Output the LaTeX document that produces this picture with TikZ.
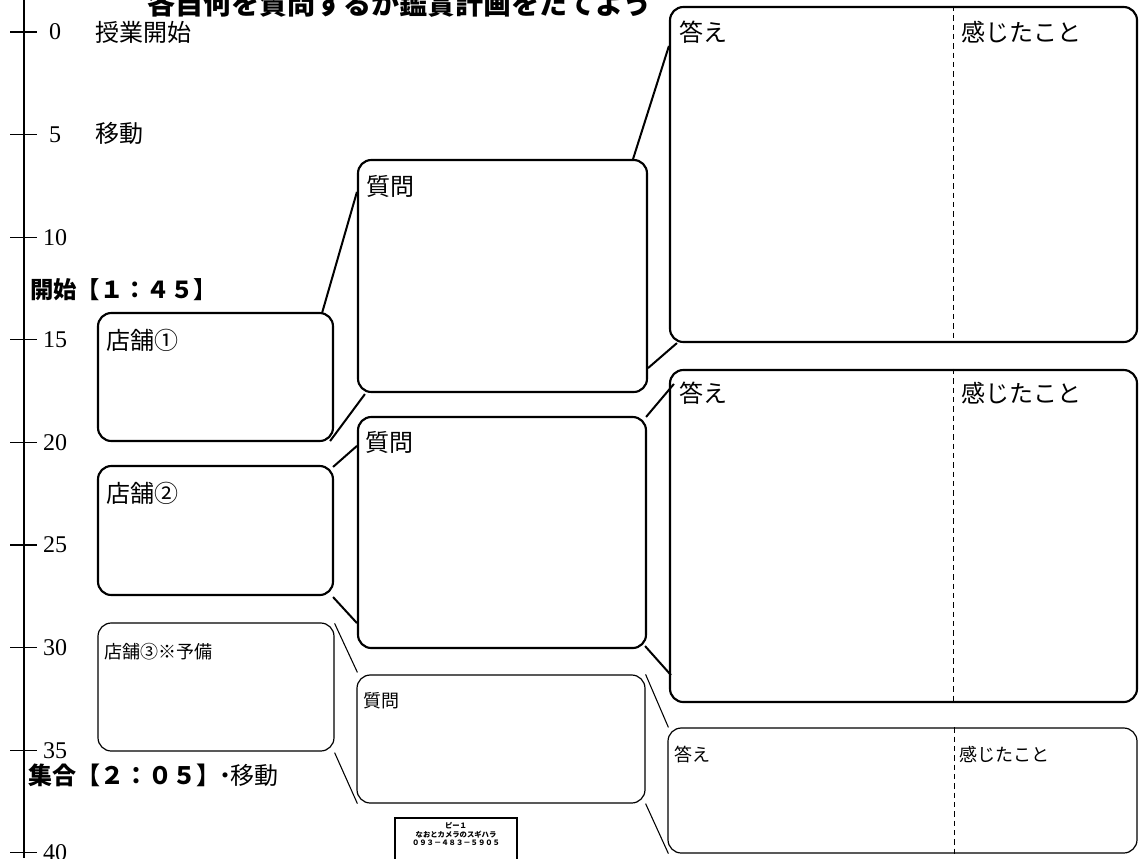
\documentclass[tikz,border=0pt]{standalone}
\usepackage{fontspec}
\setmainfont{Liberation Serif}
\newfontfamily\cjk{Noto Sans CJK JP}
\usetikzlibrary{calc}
\begin{document}
\begin{tikzpicture}[x=0.75pt,y=-0.75pt,
  thickbox/.style={draw, line width=1.6pt, rounded corners=10pt, inner sep=0pt},
  thinbox/.style={draw, line width=0.9pt, rounded corners=10pt, inner sep=0pt},
  thickline/.style={line width=1.5pt},
  thinline/.style={line width=0.8pt},
  lbl/.style={anchor=west, inner sep=0pt, font=\cjk\fontsize{18}{18}\selectfont},
  slbl/.style={anchor=west, inner sep=0pt, font=\cjk\fontsize{13.5}{13.5}\selectfont},
  num/.style={inner sep=0pt, font=\fontsize{18}{18}\selectfont},
  divider/.style={line width=0.8pt, dash pattern=on 4pt off 3pt}
]
\useasboundingbox[fill=white] (0,0) rectangle (1139,858);

% timeline
\coordinate (ltop) at (24,0);
\coordinate (lbot) at (24,858);
\draw[line width=1.1pt] (ltop) -- (lbot);
\foreach \t in {0,5,...,40} {
  \coordinate (ta\t) at (10,{32+20.52*\t});
  \coordinate (tb\t) at (37,{32+20.52*\t});
  \draw[line width=0.8pt] (ta\t) -- (tb\t);
  \node[num] (n\t) at (55,{32+20.52*\t}) {\t};
}
\node[lbl] (start) at (95,32) {授業開始};
\node[lbl] (move1) at (95,133) {移動};
\node[anchor=west, inner sep=0pt, font=\cjk\bfseries\fontsize{17.5}{17.5}\selectfont] (begin) at (30,290) {開始【１：４５】};
\node[anchor=west, inner sep=0pt, font=\cjk\fontsize{18}{18}\selectfont] (gather) at (28,775) {{\bfseries 集合【２：０５】}\kern-5pt・\kern-5pt移動};

% title
\node[anchor=base west, inner sep=0pt, font=\cjk\bfseries\fontsize{21}{21}\selectfont] (title) at (147,14) {各自何を質問するか鑑賞計画をたてよう};

% store boxes
\node[thickbox, minimum width=176.25pt, minimum height=96pt] (s1) at (215.5,377) {};
\node[thickbox, minimum width=176.25pt, minimum height=96.75pt] (s2) at (215.5,530.5) {};
\node[thinbox, minimum width=177pt, minimum height=96pt] (s3) at (216,687) {};
\node[lbl] (s1l) at ($(s1.north west)+(9,28)$) {店舗①};
\node[lbl] (s2l) at ($(s2.north west)+(9,28)$) {店舗②};
\node[slbl] (s3l) at ($(s3.north west)+(7,29)$) {店舗③※予備};

% question boxes
\node[thickbox, minimum width=216.75pt, minimum height=174pt] (q1) at (502.5,276) {};
\node[thickbox, minimum width=216pt, minimum height=173.25pt] (q2) at (502,532.5) {};
\node[thinbox, minimum width=216pt, minimum height=96pt] (q3) at (501,739) {};
\node[lbl] (q1l) at ($(q1.north west)+(9,27)$) {質問};
\node[lbl] (q2l) at ($(q2.north west)+(8,26)$) {質問};
\node[slbl] (q3l) at ($(q3.north west)+(7,26)$) {質問};

% answer boxes
\node[thickbox, minimum width=350.25pt, minimum height=251.25pt] (a1) at (903.5,174.5) {};
\node[thickbox, minimum width=350.25pt, minimum height=249pt] (a2) at (903.5,536) {};
\node[thinbox, minimum width=351.75pt, minimum height=93.75pt] (a3) at (902.5,790.5) {};
\draw[divider] ($(a1.north west)+(285,0)$) -- ($(a1.south west)+(285,0)$);
\draw[divider] ($(a2.north west)+(285,0)$) -- ($(a2.south west)+(285,0)$);
\draw[divider] ($(a3.north west)+(287,0)$) -- ($(a3.south west)+(287,0)$);
\node[lbl] (a1l) at ($(a1.north west)+(10,26)$) {答え};
\node[lbl] (a1r) at ($(a1.north west)+(292,26)$) {感じたこと};
\node[lbl] (a2l) at ($(a2.north west)+(10,24)$) {答え};
\node[lbl] (a2r) at ($(a2.north west)+(292,24)$) {感じたこと};
\node[slbl] (a3l) at ($(a3.north west)+(7,27)$) {答え};
\node[slbl] (a3r) at ($(a3.north west)+(292,27)$) {感じたこと};

% connectors store -> question
\draw[thickline] ($(s1.north east)+(-12,1)$) -- ($(q1.north west)+(0,33)$);
\draw[thickline] ($(s1.south east)+(-4,-1)$) -- ($(q1.south west)+(8,1)$);
\draw[thickline] ($(s2.north east)+(-1,2)$) -- ($(q2.north west)+(0,30)$);
\draw[thickline] ($(s2.south east)+(-1,1)$) -- ($(q2.south west)+(0,-26)$);
\draw[thinline] ($(s3.north east)+(0,1)$) -- ($(q3.north west)+(1,-2)$);
\draw[thinline] ($(s3.south east)+(0,1)$) -- ($(q3.south west)+(1,0)$);

% connectors question -> answer
\draw[thickline] ($(q1.north east)+(-15,0)$) -- ($(a1.north west)+(0,40)$);
\draw[thickline] ($(q1.south east)+(0,-25)$) -- ($(a1.south west)+(8,0)$);
\draw[thickline] ($(q2.north east)+(-1,1)$) -- ($(a2.north west)+(5,15)$);
\draw[thickline] ($(q2.south east)+(-2,-3)$) -- ($(a2.south west)+(2,-28)$);
\draw[thinline] ($(q3.north east)+(0,0)$) -- ($(a3.north west)+(1,0)$);
\draw[thinline] ($(q3.south east)+(0,0)$) -- ($(a3.south west)+(1,0)$);

% small stamp box
\node[draw, line width=1.5pt, anchor=north, minimum width=91.5pt, minimum height=40pt, inner sep=0pt] (stamp) at (456,817) {};
\node[inner sep=0pt, font=\cjk\bfseries\fontsize{5.5}{6.5}\selectfont, align=center, anchor=north] (stampt) at ($(stamp.north)+(0,5)$) {ピー１\\なおとカメラのスギハラ\\０９３－４８３－５９０５};
\end{tikzpicture}
\end{document}
